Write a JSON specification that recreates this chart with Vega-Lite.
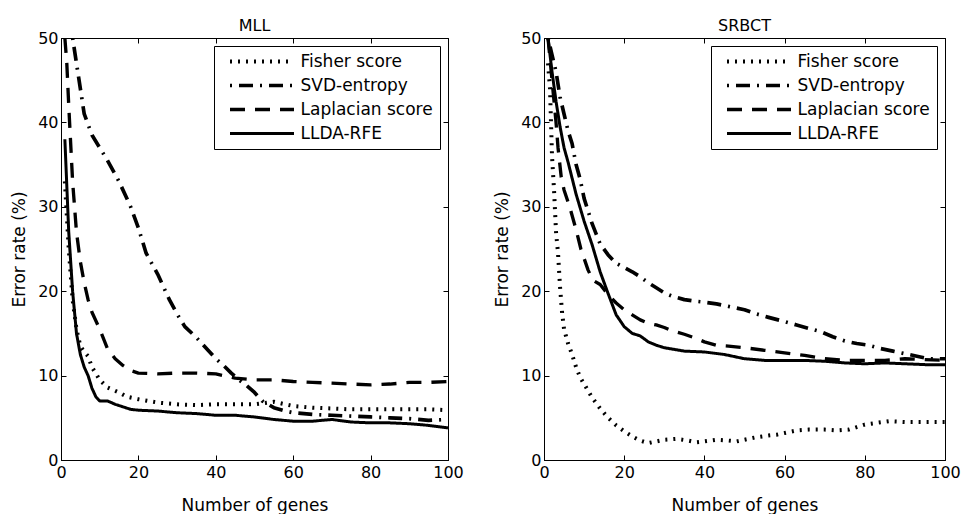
{
  "$schema": "https://vega.github.io/schema/vega-lite/v6.json",
  "autosize": {"type": "pad"},
  "padding": {"left": 10, "top": 17, "right": 0, "bottom": 0},
  "background": "white",
  "bounds": "flush",
  "spacing": 96,
  "config": {
    "font": "DejaVu Sans",
    "view": {"stroke": "black", "strokeWidth": 1},
    "title": {"fontSize": 16, "fontWeight": "normal", "color": "black", "font": "DejaVu Sans", "offset": -4},
    "axis": {
      "grid": false,
      "domainColor": "black",
      "tickColor": "black",
      "tickSize": -5,
      "labelFontSize": 16,
      "labelColor": "black",
      "labelFont": "DejaVu Sans",
      "labelFlush": false,
      "titleFontSize": 17,
      "titleFontWeight": "normal",
      "titleColor": "black",
      "titleFont": "DejaVu Sans"
    },
    "axisX": {"labelPadding": 9, "titlePadding": 17},
    "axisY": {"labelPadding": 8, "titlePadding": 9},
    "legend": {
      "orient": "top-right",
      "offset": 8,
      "padding": 7,
      "fillColor": "white",
      "strokeColor": "black",
      "labelFontSize": 17,
      "labelFont": "DejaVu Sans",
      "labelColor": "black",
      "rowPadding": 6
    }
  },
  "data": {
    "values": [
      {"panel": "MLL", "method": "Fisher score", "x": 1, "y": 33},
      {"panel": "MLL", "method": "Fisher score", "x": 2, "y": 25},
      {"panel": "MLL", "method": "Fisher score", "x": 3, "y": 19},
      {"panel": "MLL", "method": "Fisher score", "x": 4, "y": 15.5},
      {"panel": "MLL", "method": "Fisher score", "x": 5, "y": 13.5},
      {"panel": "MLL", "method": "Fisher score", "x": 6, "y": 12.8},
      {"panel": "MLL", "method": "Fisher score", "x": 7, "y": 12.3},
      {"panel": "MLL", "method": "Fisher score", "x": 8, "y": 11},
      {"panel": "MLL", "method": "Fisher score", "x": 10, "y": 9.5},
      {"panel": "MLL", "method": "Fisher score", "x": 12, "y": 8.6},
      {"panel": "MLL", "method": "Fisher score", "x": 15, "y": 8},
      {"panel": "MLL", "method": "Fisher score", "x": 17, "y": 7.5},
      {"panel": "MLL", "method": "Fisher score", "x": 20, "y": 7.2},
      {"panel": "MLL", "method": "Fisher score", "x": 25, "y": 6.8},
      {"panel": "MLL", "method": "Fisher score", "x": 30, "y": 6.6},
      {"panel": "MLL", "method": "Fisher score", "x": 35, "y": 6.5},
      {"panel": "MLL", "method": "Fisher score", "x": 40, "y": 6.6},
      {"panel": "MLL", "method": "Fisher score", "x": 45, "y": 6.6},
      {"panel": "MLL", "method": "Fisher score", "x": 50, "y": 6.6},
      {"panel": "MLL", "method": "Fisher score", "x": 55, "y": 6.9},
      {"panel": "MLL", "method": "Fisher score", "x": 60, "y": 6.4},
      {"panel": "MLL", "method": "Fisher score", "x": 65, "y": 6.2},
      {"panel": "MLL", "method": "Fisher score", "x": 70, "y": 6.1},
      {"panel": "MLL", "method": "Fisher score", "x": 75, "y": 6},
      {"panel": "MLL", "method": "Fisher score", "x": 80, "y": 6},
      {"panel": "MLL", "method": "Fisher score", "x": 85, "y": 6},
      {"panel": "MLL", "method": "Fisher score", "x": 90, "y": 6},
      {"panel": "MLL", "method": "Fisher score", "x": 95, "y": 6},
      {"panel": "MLL", "method": "Fisher score", "x": 100, "y": 5.9},

      {"panel": "MLL", "method": "SVD-entropy", "x": 3, "y": 50},
      {"panel": "MLL", "method": "SVD-entropy", "x": 4, "y": 47},
      {"panel": "MLL", "method": "SVD-entropy", "x": 5, "y": 44},
      {"panel": "MLL", "method": "SVD-entropy", "x": 6, "y": 41},
      {"panel": "MLL", "method": "SVD-entropy", "x": 8, "y": 38.5},
      {"panel": "MLL", "method": "SVD-entropy", "x": 10, "y": 37},
      {"panel": "MLL", "method": "SVD-entropy", "x": 12, "y": 35.5},
      {"panel": "MLL", "method": "SVD-entropy", "x": 15, "y": 33},
      {"panel": "MLL", "method": "SVD-entropy", "x": 18, "y": 30},
      {"panel": "MLL", "method": "SVD-entropy", "x": 20, "y": 27.5},
      {"panel": "MLL", "method": "SVD-entropy", "x": 22, "y": 24.5},
      {"panel": "MLL", "method": "SVD-entropy", "x": 25, "y": 22},
      {"panel": "MLL", "method": "SVD-entropy", "x": 28, "y": 19},
      {"panel": "MLL", "method": "SVD-entropy", "x": 30, "y": 17.3},
      {"panel": "MLL", "method": "SVD-entropy", "x": 32, "y": 15.8},
      {"panel": "MLL", "method": "SVD-entropy", "x": 35, "y": 14.5},
      {"panel": "MLL", "method": "SVD-entropy", "x": 38, "y": 13},
      {"panel": "MLL", "method": "SVD-entropy", "x": 40, "y": 12},
      {"panel": "MLL", "method": "SVD-entropy", "x": 42, "y": 11.2},
      {"panel": "MLL", "method": "SVD-entropy", "x": 44, "y": 10.3},
      {"panel": "MLL", "method": "SVD-entropy", "x": 46, "y": 9.5},
      {"panel": "MLL", "method": "SVD-entropy", "x": 48, "y": 8.8},
      {"panel": "MLL", "method": "SVD-entropy", "x": 50, "y": 8},
      {"panel": "MLL", "method": "SVD-entropy", "x": 52, "y": 7},
      {"panel": "MLL", "method": "SVD-entropy", "x": 55, "y": 6.2},
      {"panel": "MLL", "method": "SVD-entropy", "x": 58, "y": 5.8},
      {"panel": "MLL", "method": "SVD-entropy", "x": 60, "y": 5.6},
      {"panel": "MLL", "method": "SVD-entropy", "x": 65, "y": 5.4},
      {"panel": "MLL", "method": "SVD-entropy", "x": 70, "y": 5.3},
      {"panel": "MLL", "method": "SVD-entropy", "x": 75, "y": 5.2},
      {"panel": "MLL", "method": "SVD-entropy", "x": 80, "y": 5.1},
      {"panel": "MLL", "method": "SVD-entropy", "x": 85, "y": 5.0},
      {"panel": "MLL", "method": "SVD-entropy", "x": 90, "y": 4.9},
      {"panel": "MLL", "method": "SVD-entropy", "x": 95, "y": 4.7},
      {"panel": "MLL", "method": "SVD-entropy", "x": 100, "y": 4.8},

      {"panel": "MLL", "method": "Laplacian score", "x": 1, "y": 50},
      {"panel": "MLL", "method": "Laplacian score", "x": 1.5, "y": 47},
      {"panel": "MLL", "method": "Laplacian score", "x": 2, "y": 42},
      {"panel": "MLL", "method": "Laplacian score", "x": 3, "y": 33},
      {"panel": "MLL", "method": "Laplacian score", "x": 4, "y": 27},
      {"panel": "MLL", "method": "Laplacian score", "x": 5, "y": 23.5},
      {"panel": "MLL", "method": "Laplacian score", "x": 6, "y": 21},
      {"panel": "MLL", "method": "Laplacian score", "x": 7, "y": 19},
      {"panel": "MLL", "method": "Laplacian score", "x": 8, "y": 17.5},
      {"panel": "MLL", "method": "Laplacian score", "x": 10, "y": 15.5},
      {"panel": "MLL", "method": "Laplacian score", "x": 12, "y": 13.2},
      {"panel": "MLL", "method": "Laplacian score", "x": 14, "y": 12},
      {"panel": "MLL", "method": "Laplacian score", "x": 16, "y": 11.2},
      {"panel": "MLL", "method": "Laplacian score", "x": 18, "y": 10.6},
      {"panel": "MLL", "method": "Laplacian score", "x": 20, "y": 10.3},
      {"panel": "MLL", "method": "Laplacian score", "x": 25, "y": 10.2},
      {"panel": "MLL", "method": "Laplacian score", "x": 30, "y": 10.3},
      {"panel": "MLL", "method": "Laplacian score", "x": 35, "y": 10.3},
      {"panel": "MLL", "method": "Laplacian score", "x": 40, "y": 10.2},
      {"panel": "MLL", "method": "Laplacian score", "x": 45, "y": 9.7},
      {"panel": "MLL", "method": "Laplacian score", "x": 50, "y": 9.5},
      {"panel": "MLL", "method": "Laplacian score", "x": 55, "y": 9.5},
      {"panel": "MLL", "method": "Laplacian score", "x": 60, "y": 9.3},
      {"panel": "MLL", "method": "Laplacian score", "x": 65, "y": 9.2},
      {"panel": "MLL", "method": "Laplacian score", "x": 70, "y": 9.1},
      {"panel": "MLL", "method": "Laplacian score", "x": 75, "y": 9.0},
      {"panel": "MLL", "method": "Laplacian score", "x": 80, "y": 8.9},
      {"panel": "MLL", "method": "Laplacian score", "x": 85, "y": 9.0},
      {"panel": "MLL", "method": "Laplacian score", "x": 90, "y": 9.2},
      {"panel": "MLL", "method": "Laplacian score", "x": 95, "y": 9.2},
      {"panel": "MLL", "method": "Laplacian score", "x": 100, "y": 9.3},

      {"panel": "MLL", "method": "LLDA-RFE", "x": 1, "y": 38},
      {"panel": "MLL", "method": "LLDA-RFE", "x": 2, "y": 27},
      {"panel": "MLL", "method": "LLDA-RFE", "x": 3, "y": 20},
      {"panel": "MLL", "method": "LLDA-RFE", "x": 4, "y": 15},
      {"panel": "MLL", "method": "LLDA-RFE", "x": 5, "y": 12.5},
      {"panel": "MLL", "method": "LLDA-RFE", "x": 6, "y": 11},
      {"panel": "MLL", "method": "LLDA-RFE", "x": 7, "y": 10},
      {"panel": "MLL", "method": "LLDA-RFE", "x": 8, "y": 8.5},
      {"panel": "MLL", "method": "LLDA-RFE", "x": 9, "y": 7.5},
      {"panel": "MLL", "method": "LLDA-RFE", "x": 10, "y": 7},
      {"panel": "MLL", "method": "LLDA-RFE", "x": 12, "y": 7},
      {"panel": "MLL", "method": "LLDA-RFE", "x": 14, "y": 6.6},
      {"panel": "MLL", "method": "LLDA-RFE", "x": 16, "y": 6.3},
      {"panel": "MLL", "method": "LLDA-RFE", "x": 18, "y": 6},
      {"panel": "MLL", "method": "LLDA-RFE", "x": 20, "y": 5.9},
      {"panel": "MLL", "method": "LLDA-RFE", "x": 25, "y": 5.8},
      {"panel": "MLL", "method": "LLDA-RFE", "x": 30, "y": 5.6},
      {"panel": "MLL", "method": "LLDA-RFE", "x": 35, "y": 5.5},
      {"panel": "MLL", "method": "LLDA-RFE", "x": 40, "y": 5.3},
      {"panel": "MLL", "method": "LLDA-RFE", "x": 45, "y": 5.3},
      {"panel": "MLL", "method": "LLDA-RFE", "x": 50, "y": 5.1},
      {"panel": "MLL", "method": "LLDA-RFE", "x": 55, "y": 4.8},
      {"panel": "MLL", "method": "LLDA-RFE", "x": 60, "y": 4.6},
      {"panel": "MLL", "method": "LLDA-RFE", "x": 65, "y": 4.6},
      {"panel": "MLL", "method": "LLDA-RFE", "x": 70, "y": 4.8},
      {"panel": "MLL", "method": "LLDA-RFE", "x": 75, "y": 4.5},
      {"panel": "MLL", "method": "LLDA-RFE", "x": 80, "y": 4.4},
      {"panel": "MLL", "method": "LLDA-RFE", "x": 85, "y": 4.4},
      {"panel": "MLL", "method": "LLDA-RFE", "x": 90, "y": 4.3},
      {"panel": "MLL", "method": "LLDA-RFE", "x": 95, "y": 4.1},
      {"panel": "MLL", "method": "LLDA-RFE", "x": 100, "y": 3.8},

      {"panel": "SRBCT", "method": "Fisher score", "x": 1, "y": 47},
      {"panel": "SRBCT", "method": "Fisher score", "x": 1.5, "y": 44},
      {"panel": "SRBCT", "method": "Fisher score", "x": 2, "y": 36},
      {"panel": "SRBCT", "method": "Fisher score", "x": 2.5, "y": 32},
      {"panel": "SRBCT", "method": "Fisher score", "x": 3, "y": 27},
      {"panel": "SRBCT", "method": "Fisher score", "x": 3.5, "y": 24.5},
      {"panel": "SRBCT", "method": "Fisher score", "x": 4, "y": 20.5},
      {"panel": "SRBCT", "method": "Fisher score", "x": 4.5, "y": 17.5},
      {"panel": "SRBCT", "method": "Fisher score", "x": 5, "y": 15.5},
      {"panel": "SRBCT", "method": "Fisher score", "x": 6, "y": 13.8},
      {"panel": "SRBCT", "method": "Fisher score", "x": 7, "y": 12.5},
      {"panel": "SRBCT", "method": "Fisher score", "x": 8, "y": 11},
      {"panel": "SRBCT", "method": "Fisher score", "x": 9, "y": 9.8},
      {"panel": "SRBCT", "method": "Fisher score", "x": 10, "y": 9},
      {"panel": "SRBCT", "method": "Fisher score", "x": 11, "y": 8.2},
      {"panel": "SRBCT", "method": "Fisher score", "x": 12, "y": 7.4},
      {"panel": "SRBCT", "method": "Fisher score", "x": 14, "y": 6.1},
      {"panel": "SRBCT", "method": "Fisher score", "x": 16, "y": 5},
      {"panel": "SRBCT", "method": "Fisher score", "x": 18, "y": 4.1},
      {"panel": "SRBCT", "method": "Fisher score", "x": 20, "y": 3.4},
      {"panel": "SRBCT", "method": "Fisher score", "x": 22, "y": 2.8},
      {"panel": "SRBCT", "method": "Fisher score", "x": 24, "y": 2.3},
      {"panel": "SRBCT", "method": "Fisher score", "x": 26, "y": 2.0},
      {"panel": "SRBCT", "method": "Fisher score", "x": 28, "y": 2.2},
      {"panel": "SRBCT", "method": "Fisher score", "x": 30, "y": 2.4},
      {"panel": "SRBCT", "method": "Fisher score", "x": 33, "y": 2.5},
      {"panel": "SRBCT", "method": "Fisher score", "x": 36, "y": 2.3},
      {"panel": "SRBCT", "method": "Fisher score", "x": 38, "y": 2.1},
      {"panel": "SRBCT", "method": "Fisher score", "x": 40, "y": 2.2},
      {"panel": "SRBCT", "method": "Fisher score", "x": 43, "y": 2.4},
      {"panel": "SRBCT", "method": "Fisher score", "x": 46, "y": 2.3},
      {"panel": "SRBCT", "method": "Fisher score", "x": 48, "y": 2.2},
      {"panel": "SRBCT", "method": "Fisher score", "x": 50, "y": 2.4},
      {"panel": "SRBCT", "method": "Fisher score", "x": 53, "y": 2.7},
      {"panel": "SRBCT", "method": "Fisher score", "x": 56, "y": 2.9},
      {"panel": "SRBCT", "method": "Fisher score", "x": 58, "y": 3.0},
      {"panel": "SRBCT", "method": "Fisher score", "x": 60, "y": 3.2},
      {"panel": "SRBCT", "method": "Fisher score", "x": 63, "y": 3.5},
      {"panel": "SRBCT", "method": "Fisher score", "x": 66, "y": 3.6},
      {"panel": "SRBCT", "method": "Fisher score", "x": 70, "y": 3.6},
      {"panel": "SRBCT", "method": "Fisher score", "x": 73, "y": 3.5},
      {"panel": "SRBCT", "method": "Fisher score", "x": 76, "y": 3.6},
      {"panel": "SRBCT", "method": "Fisher score", "x": 78, "y": 3.9},
      {"panel": "SRBCT", "method": "Fisher score", "x": 80, "y": 4.2},
      {"panel": "SRBCT", "method": "Fisher score", "x": 83, "y": 4.4},
      {"panel": "SRBCT", "method": "Fisher score", "x": 86, "y": 4.6},
      {"panel": "SRBCT", "method": "Fisher score", "x": 90, "y": 4.5},
      {"panel": "SRBCT", "method": "Fisher score", "x": 95, "y": 4.5},
      {"panel": "SRBCT", "method": "Fisher score", "x": 100, "y": 4.5},

      {"panel": "SRBCT", "method": "SVD-entropy", "x": 1, "y": 50},
      {"panel": "SRBCT", "method": "SVD-entropy", "x": 2, "y": 48},
      {"panel": "SRBCT", "method": "SVD-entropy", "x": 3, "y": 46},
      {"panel": "SRBCT", "method": "SVD-entropy", "x": 4, "y": 43},
      {"panel": "SRBCT", "method": "SVD-entropy", "x": 5, "y": 41},
      {"panel": "SRBCT", "method": "SVD-entropy", "x": 6, "y": 39},
      {"panel": "SRBCT", "method": "SVD-entropy", "x": 7, "y": 37.5},
      {"panel": "SRBCT", "method": "SVD-entropy", "x": 8, "y": 35},
      {"panel": "SRBCT", "method": "SVD-entropy", "x": 9, "y": 33.3},
      {"panel": "SRBCT", "method": "SVD-entropy", "x": 10, "y": 31},
      {"panel": "SRBCT", "method": "SVD-entropy", "x": 11, "y": 29.5},
      {"panel": "SRBCT", "method": "SVD-entropy", "x": 12, "y": 28},
      {"panel": "SRBCT", "method": "SVD-entropy", "x": 13, "y": 26.8},
      {"panel": "SRBCT", "method": "SVD-entropy", "x": 14, "y": 25.6},
      {"panel": "SRBCT", "method": "SVD-entropy", "x": 16, "y": 24.3},
      {"panel": "SRBCT", "method": "SVD-entropy", "x": 18, "y": 23.3},
      {"panel": "SRBCT", "method": "SVD-entropy", "x": 20, "y": 22.8},
      {"panel": "SRBCT", "method": "SVD-entropy", "x": 22, "y": 22.3},
      {"panel": "SRBCT", "method": "SVD-entropy", "x": 24, "y": 21.7},
      {"panel": "SRBCT", "method": "SVD-entropy", "x": 26, "y": 21},
      {"panel": "SRBCT", "method": "SVD-entropy", "x": 28, "y": 20.4},
      {"panel": "SRBCT", "method": "SVD-entropy", "x": 30, "y": 19.8},
      {"panel": "SRBCT", "method": "SVD-entropy", "x": 32, "y": 19.4},
      {"panel": "SRBCT", "method": "SVD-entropy", "x": 35, "y": 19},
      {"panel": "SRBCT", "method": "SVD-entropy", "x": 38, "y": 18.8},
      {"panel": "SRBCT", "method": "SVD-entropy", "x": 40, "y": 18.7},
      {"panel": "SRBCT", "method": "SVD-entropy", "x": 43, "y": 18.5},
      {"panel": "SRBCT", "method": "SVD-entropy", "x": 46, "y": 18.2},
      {"panel": "SRBCT", "method": "SVD-entropy", "x": 50, "y": 17.8},
      {"panel": "SRBCT", "method": "SVD-entropy", "x": 53, "y": 17.3},
      {"panel": "SRBCT", "method": "SVD-entropy", "x": 56, "y": 16.9},
      {"panel": "SRBCT", "method": "SVD-entropy", "x": 60, "y": 16.4},
      {"panel": "SRBCT", "method": "SVD-entropy", "x": 63, "y": 16},
      {"panel": "SRBCT", "method": "SVD-entropy", "x": 66, "y": 15.6},
      {"panel": "SRBCT", "method": "SVD-entropy", "x": 69, "y": 15.2},
      {"panel": "SRBCT", "method": "SVD-entropy", "x": 72, "y": 14.6},
      {"panel": "SRBCT", "method": "SVD-entropy", "x": 75, "y": 14.1},
      {"panel": "SRBCT", "method": "SVD-entropy", "x": 78, "y": 13.8},
      {"panel": "SRBCT", "method": "SVD-entropy", "x": 81, "y": 13.6},
      {"panel": "SRBCT", "method": "SVD-entropy", "x": 84, "y": 13.2},
      {"panel": "SRBCT", "method": "SVD-entropy", "x": 87, "y": 12.9},
      {"panel": "SRBCT", "method": "SVD-entropy", "x": 90, "y": 12.6},
      {"panel": "SRBCT", "method": "SVD-entropy", "x": 93, "y": 12.3},
      {"panel": "SRBCT", "method": "SVD-entropy", "x": 96, "y": 12},
      {"panel": "SRBCT", "method": "SVD-entropy", "x": 100, "y": 12},

      {"panel": "SRBCT", "method": "Laplacian score", "x": 1, "y": 50},
      {"panel": "SRBCT", "method": "Laplacian score", "x": 2, "y": 45},
      {"panel": "SRBCT", "method": "Laplacian score", "x": 3, "y": 40},
      {"panel": "SRBCT", "method": "Laplacian score", "x": 3.5, "y": 37},
      {"panel": "SRBCT", "method": "Laplacian score", "x": 4.3, "y": 33.5},
      {"panel": "SRBCT", "method": "Laplacian score", "x": 5, "y": 32},
      {"panel": "SRBCT", "method": "Laplacian score", "x": 6.4, "y": 30},
      {"panel": "SRBCT", "method": "Laplacian score", "x": 8, "y": 27.3},
      {"panel": "SRBCT", "method": "Laplacian score", "x": 9.2, "y": 25},
      {"panel": "SRBCT", "method": "Laplacian score", "x": 11, "y": 22.5},
      {"panel": "SRBCT", "method": "Laplacian score", "x": 12.2, "y": 21.3},
      {"panel": "SRBCT", "method": "Laplacian score", "x": 14, "y": 20.8},
      {"panel": "SRBCT", "method": "Laplacian score", "x": 16, "y": 19.6},
      {"panel": "SRBCT", "method": "Laplacian score", "x": 18, "y": 18.6},
      {"panel": "SRBCT", "method": "Laplacian score", "x": 20, "y": 17.8},
      {"panel": "SRBCT", "method": "Laplacian score", "x": 22, "y": 17.2},
      {"panel": "SRBCT", "method": "Laplacian score", "x": 24, "y": 16.6},
      {"panel": "SRBCT", "method": "Laplacian score", "x": 26, "y": 16.2},
      {"panel": "SRBCT", "method": "Laplacian score", "x": 28, "y": 16},
      {"panel": "SRBCT", "method": "Laplacian score", "x": 30, "y": 15.7},
      {"panel": "SRBCT", "method": "Laplacian score", "x": 32, "y": 15.3},
      {"panel": "SRBCT", "method": "Laplacian score", "x": 35, "y": 14.9},
      {"panel": "SRBCT", "method": "Laplacian score", "x": 38, "y": 14.4},
      {"panel": "SRBCT", "method": "Laplacian score", "x": 40, "y": 14},
      {"panel": "SRBCT", "method": "Laplacian score", "x": 43, "y": 13.6},
      {"panel": "SRBCT", "method": "Laplacian score", "x": 46, "y": 13.5},
      {"panel": "SRBCT", "method": "Laplacian score", "x": 50, "y": 13.3},
      {"panel": "SRBCT", "method": "Laplacian score", "x": 55, "y": 13},
      {"panel": "SRBCT", "method": "Laplacian score", "x": 60, "y": 12.7},
      {"panel": "SRBCT", "method": "Laplacian score", "x": 65, "y": 12.4},
      {"panel": "SRBCT", "method": "Laplacian score", "x": 70, "y": 12},
      {"panel": "SRBCT", "method": "Laplacian score", "x": 75, "y": 11.8},
      {"panel": "SRBCT", "method": "Laplacian score", "x": 80, "y": 11.8},
      {"panel": "SRBCT", "method": "Laplacian score", "x": 85, "y": 11.8},
      {"panel": "SRBCT", "method": "Laplacian score", "x": 90, "y": 12},
      {"panel": "SRBCT", "method": "Laplacian score", "x": 95, "y": 11.9},
      {"panel": "SRBCT", "method": "Laplacian score", "x": 100, "y": 11.8},

      {"panel": "SRBCT", "method": "LLDA-RFE", "x": 1, "y": 50},
      {"panel": "SRBCT", "method": "LLDA-RFE", "x": 2, "y": 46},
      {"panel": "SRBCT", "method": "LLDA-RFE", "x": 3, "y": 42.5},
      {"panel": "SRBCT", "method": "LLDA-RFE", "x": 4, "y": 39.5},
      {"panel": "SRBCT", "method": "LLDA-RFE", "x": 5, "y": 37},
      {"panel": "SRBCT", "method": "LLDA-RFE", "x": 6, "y": 35.3},
      {"panel": "SRBCT", "method": "LLDA-RFE", "x": 8, "y": 31.5},
      {"panel": "SRBCT", "method": "LLDA-RFE", "x": 10, "y": 28.3},
      {"panel": "SRBCT", "method": "LLDA-RFE", "x": 12, "y": 25.5},
      {"panel": "SRBCT", "method": "LLDA-RFE", "x": 14, "y": 22.3},
      {"panel": "SRBCT", "method": "LLDA-RFE", "x": 16, "y": 19.7},
      {"panel": "SRBCT", "method": "LLDA-RFE", "x": 18, "y": 17.2},
      {"panel": "SRBCT", "method": "LLDA-RFE", "x": 20, "y": 15.8},
      {"panel": "SRBCT", "method": "LLDA-RFE", "x": 22, "y": 15},
      {"panel": "SRBCT", "method": "LLDA-RFE", "x": 24, "y": 14.7},
      {"panel": "SRBCT", "method": "LLDA-RFE", "x": 26, "y": 14},
      {"panel": "SRBCT", "method": "LLDA-RFE", "x": 28, "y": 13.6},
      {"panel": "SRBCT", "method": "LLDA-RFE", "x": 30, "y": 13.3},
      {"panel": "SRBCT", "method": "LLDA-RFE", "x": 35, "y": 12.9},
      {"panel": "SRBCT", "method": "LLDA-RFE", "x": 40, "y": 12.8},
      {"panel": "SRBCT", "method": "LLDA-RFE", "x": 45, "y": 12.5},
      {"panel": "SRBCT", "method": "LLDA-RFE", "x": 50, "y": 12},
      {"panel": "SRBCT", "method": "LLDA-RFE", "x": 55, "y": 11.8},
      {"panel": "SRBCT", "method": "LLDA-RFE", "x": 60, "y": 11.8},
      {"panel": "SRBCT", "method": "LLDA-RFE", "x": 65, "y": 11.8},
      {"panel": "SRBCT", "method": "LLDA-RFE", "x": 70, "y": 11.7},
      {"panel": "SRBCT", "method": "LLDA-RFE", "x": 75, "y": 11.5},
      {"panel": "SRBCT", "method": "LLDA-RFE", "x": 80, "y": 11.4},
      {"panel": "SRBCT", "method": "LLDA-RFE", "x": 85, "y": 11.5},
      {"panel": "SRBCT", "method": "LLDA-RFE", "x": 90, "y": 11.4},
      {"panel": "SRBCT", "method": "LLDA-RFE", "x": 95, "y": 11.3},
      {"panel": "SRBCT", "method": "LLDA-RFE", "x": 100, "y": 11.3}
    ]
  },
  "hconcat": [
    {
      "title": "MLL",
      "width": 387,
      "height": 422,
      "transform": [{"filter": "datum.panel === 'MLL'"}],
      "layer": [
        {
          "mark": {"type": "line", "color": "black", "clip": true, "strokeCap": "butt", "strokeJoin": "round"},
          "encoding": {
            "x": {"field": "x", "type": "quantitative", "scale": {"domain": [0, 100], "nice": false}, "axis": {"values": [0, 20, 40, 60, 80, 100], "title": "Number of genes"}},
            "y": {"field": "y", "type": "quantitative", "scale": {"domain": [0, 50], "nice": false}, "axis": {"values": [0, 10, 20, 30, 40, 50], "title": "Error rate (%)"}},
            "strokeDash": {
              "field": "method", "type": "nominal",
              "scale": {"domain": ["Fisher score", "SVD-entropy", "Laplacian score", "LLDA-RFE"], "range": [[2, 6], [2, 7, 14, 7], [15, 10], [1, 0]]},
              "legend": {"title": null, "symbolType": "M-6.4,0L6.4,0", "symbolSize": 100, "symbolStrokeWidth": 3, "symbolStrokeColor": "black", "symbolFillColor": "transparent", "symbolOffset": 32.5, "labelOffset": 30}
            },
            "strokeWidth": {
              "field": "method", "type": "nominal",
              "scale": {"domain": ["Fisher score", "SVD-entropy", "Laplacian score", "LLDA-RFE"], "range": [4, 3, 4, 3]},
              "legend": null
            }
          }
        },
        {
          "mark": {"type": "line", "opacity": 0},
          "encoding": {
            "x": {"field": "x", "type": "quantitative", "axis": {"orient": "top", "values": [0, 20, 40, 60, 80, 100], "labels": false, "title": null, "domain": false}},
            "y": {"field": "y", "type": "quantitative", "axis": {"orient": "right", "values": [0, 10, 20, 30, 40, 50], "labels": false, "title": null, "domain": false}},
            "detail": {"field": "method"}
          }
        }
      ],
      "resolve": {"axis": {"x": "independent", "y": "independent"}}
    },
    {
      "title": "SRBCT",
      "width": 401,
      "height": 422,
      "transform": [{"filter": "datum.panel === 'SRBCT'"}],
      "layer": [
        {
          "mark": {"type": "line", "color": "black", "clip": true, "strokeCap": "butt", "strokeJoin": "round"},
          "encoding": {
            "x": {"field": "x", "type": "quantitative", "scale": {"domain": [0, 100], "nice": false}, "axis": {"values": [0, 20, 40, 60, 80, 100], "title": "Number of genes"}},
            "y": {"field": "y", "type": "quantitative", "scale": {"domain": [0, 50], "nice": false}, "axis": {"values": [0, 10, 20, 30, 40, 50], "title": "Error rate (%)"}},
            "strokeDash": {
              "field": "method", "type": "nominal",
              "scale": {"domain": ["Fisher score", "SVD-entropy", "Laplacian score", "LLDA-RFE"], "range": [[2, 6], [2, 7, 14, 7], [15, 10], [1, 0]]},
              "legend": {"title": null, "symbolType": "M-6.4,0L6.4,0", "symbolSize": 100, "symbolStrokeWidth": 3, "symbolStrokeColor": "black", "symbolFillColor": "transparent", "symbolOffset": 32.5, "labelOffset": 30}
            },
            "strokeWidth": {
              "field": "method", "type": "nominal",
              "scale": {"domain": ["Fisher score", "SVD-entropy", "Laplacian score", "LLDA-RFE"], "range": [4, 3, 4, 3]},
              "legend": null
            }
          }
        },
        {
          "mark": {"type": "line", "opacity": 0},
          "encoding": {
            "x": {"field": "x", "type": "quantitative", "axis": {"orient": "top", "values": [0, 20, 40, 60, 80, 100], "labels": false, "title": null, "domain": false}},
            "y": {"field": "y", "type": "quantitative", "axis": {"orient": "right", "values": [0, 10, 20, 30, 40, 50], "labels": false, "title": null, "domain": false}},
            "detail": {"field": "method"}
          }
        }
      ],
      "resolve": {"axis": {"x": "independent", "y": "independent"}}
    }
  ],
  "resolve": {"scale": {"strokeDash": "independent", "strokeWidth": "independent"}, "legend": {"strokeDash": "independent"}}
}
